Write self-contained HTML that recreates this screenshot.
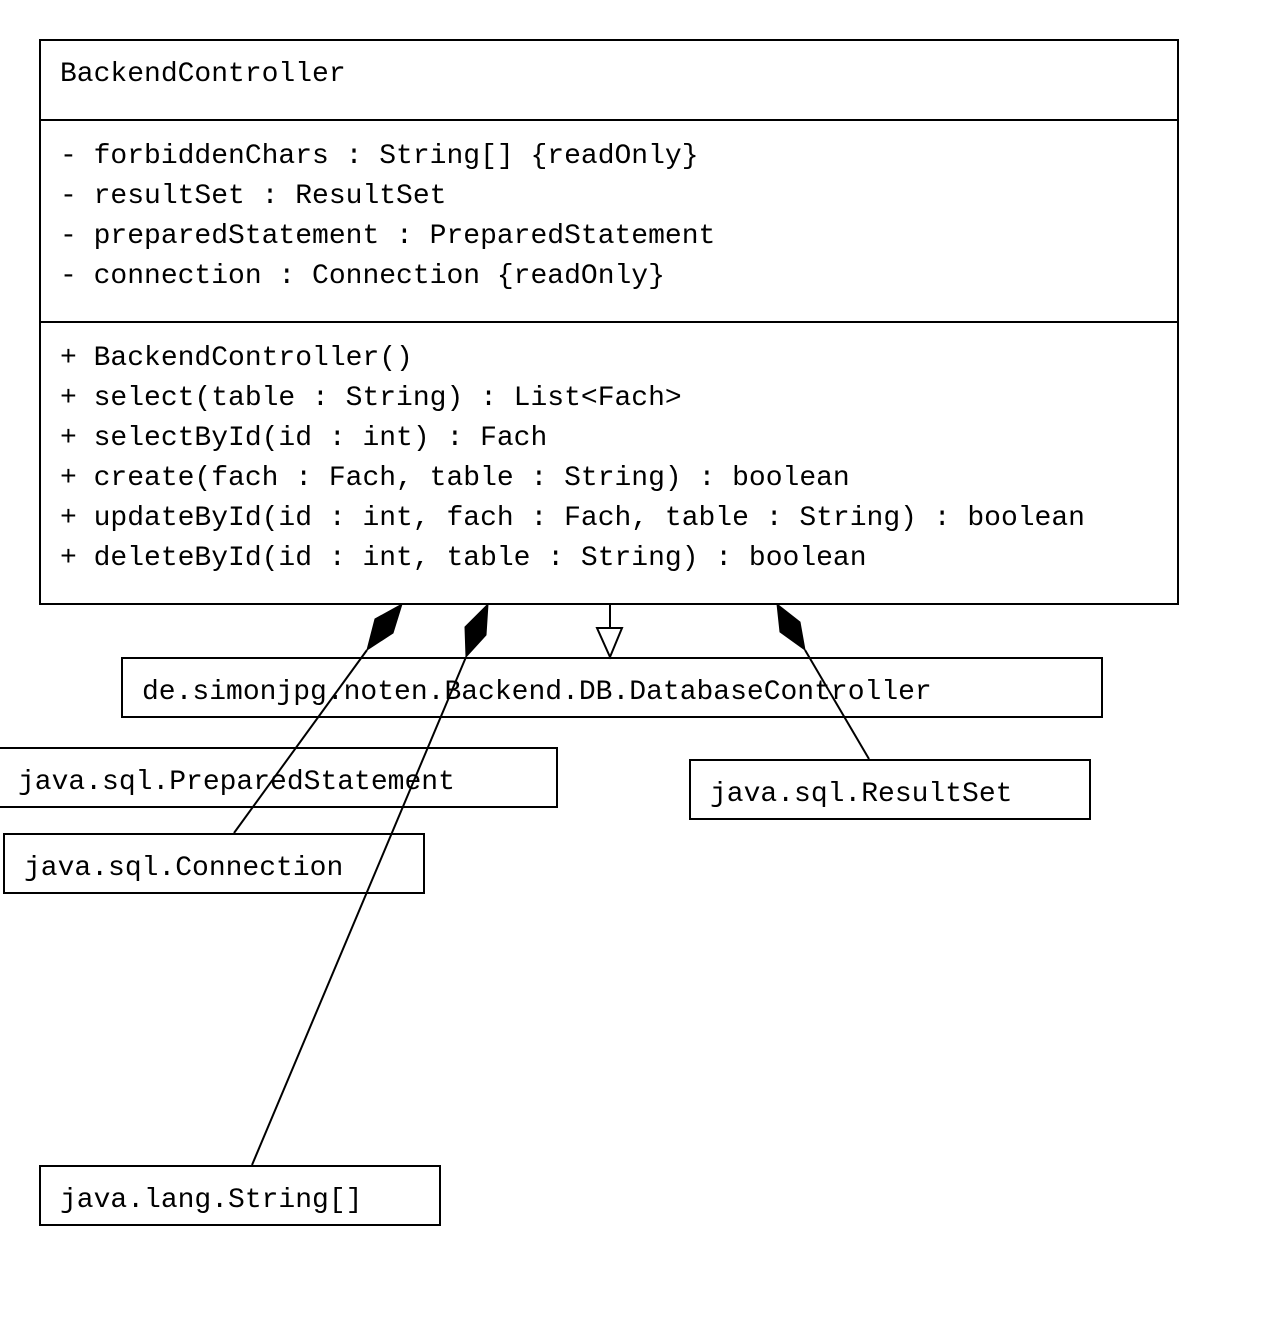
<!DOCTYPE html>
<html><head><meta charset="utf-8"><style>
html,body{margin:0;padding:0;background:#fff;}
svg{display:block;}
text{font-family:"Liberation Mono",monospace;font-size:28px;fill:#000;}
</style></head><body>
<svg width="1276" height="1318" viewBox="0 0 1276 1318">
<g fill="none" stroke="#000" stroke-width="2">
<rect x="40" y="40" width="1138" height="564"/>
<line x1="40" y1="120" x2="1178" y2="120"/>
<line x1="40" y1="322" x2="1178" y2="322"/>
<rect x="122" y="658" width="980" height="59"/>
<rect x="-10" y="748" width="567" height="59"/>
<rect x="4" y="834" width="420" height="59"/>
<rect x="690" y="760" width="400" height="59"/>
<rect x="40" y="1166" width="400" height="59"/>
<line x1="367" y1="650" x2="234" y2="833"/>
<line x1="466" y1="657" x2="252" y2="1165"/>
<line x1="805" y1="650" x2="869" y2="759"/>
<line x1="610" y1="604" x2="610" y2="628"/>
<polygon points="597,628 622,628 610,657" fill="#fff"/>
</g>
<g fill="#000" stroke="#000" stroke-width="1">
<polygon points="402,604 375,619 367,650 393,633"/>
<polygon points="488,604 465,627 466,657 486,635"/>
<polygon points="777,604 780,632 805,650 800,622"/>
</g>
<text x="60" y="81">BackendController</text>
<text x="60" y="163">- forbiddenChars : String[] {readOnly}</text>
<text x="60" y="203">- resultSet : ResultSet</text>
<text x="60" y="243">- preparedStatement : PreparedStatement</text>
<text x="60" y="283">- connection : Connection {readOnly}</text>
<text x="60" y="365">+ BackendController()</text>
<text x="60" y="405">+ select(table : String) : List&lt;Fach&gt;</text>
<text x="60" y="445">+ selectById(id : int) : Fach</text>
<text x="60" y="485">+ create(fach : Fach, table : String) : boolean</text>
<text x="60" y="525">+ updateById(id : int, fach : Fach, table : String) : boolean</text>
<text x="60" y="565">+ deleteById(id : int, table : String) : boolean</text>
<text x="142" y="699">de.simonjpg.noten.Backend.DB.DatabaseController</text>
<text x="18" y="789">java.sql.PreparedStatement</text>
<text x="24" y="875">java.sql.Connection</text>
<text x="710" y="801">java.sql.ResultSet</text>
<text x="60" y="1207">java.lang.String[]</text>
</svg>
</body></html>
